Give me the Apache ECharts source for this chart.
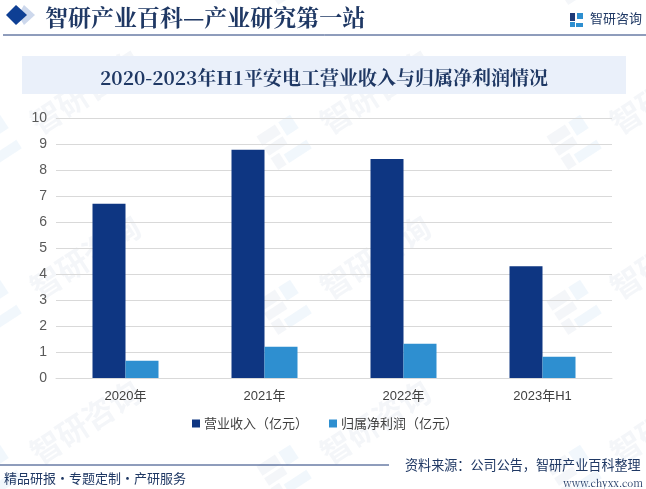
<!DOCTYPE html>
<html><head><meta charset="utf-8">
<style>html,body{margin:0;padding:0;background:#fff}#c{width:646px;height:489px}</style>
<script src="https://cdn.jsdelivr.net/npm/echarts@6/dist/echarts.min.js"></script>
</head><body><div id="c"></div>
<script>
const categories = ['2020年','2021年','2022年','2023年H1'];
const revenue = [6.7, 8.78, 8.42, 4.3];
const profit = [0.66, 1.2, 1.32, 0.82];
const seriesNames = ['营业收入（亿元）','归属净利润（亿元）'];
const titleText = '2020-2023年H1平安电工营业收入与归属净利润情况';
const headerText = '智研产业百科—产业研究第一站';
const sourceText = '资料来源：公司公告，智研产业百科整理';
const sloganText = '精品研报·专题定制·产研服务';
const siteText = 'www.chyxx.com';
const brandText = '智研咨询';

const serif = '"Noto Serif CJK SC","Liberation Serif","Noto Sans CJK SC",serif';
const sans = '"Noto Sans CJK SC",sans-serif';
const wmAngle = Math.PI * 33 / 180;
const wmFill = 'rgba(60,95,150,0.055)';
const wmBlue = 'rgba(50,140,210,0.07)';
const marks = [];
// the faint logo-and-name stamp repeats on a regular lattice behind the chart
[-60, 105, 270, 435].forEach(oy => {
  [-15, 275, 565].forEach(ox => {
    marks.push({type:'group', x:ox, y:oy + 60, rotation:wmAngle, z:0, silent:true, children:[
      {type:'rect', shape:{x:0,y:-34,width:22,height:11}, style:{fill:wmFill}},
      {type:'rect', shape:{x:0,y:-20,width:22,height:9}, style:{fill:wmFill}},
      {type:'rect', shape:{x:0,y:-8,width:10,height:14}, style:{fill:wmFill}},
      {type:'rect', shape:{x:26,y:-34,width:14,height:16}, style:{fill:wmBlue}},
      {type:'rect', shape:{x:13,y:-4,width:27,height:10}, style:{fill:wmBlue}},
      {type:'text', x:62, y:-22, style:{text:brandText, fill:wmFill, font:'bold 31px '+sans}}
    ]});
  });
});
const chart = echarts.init(document.getElementById('c'));
chart.setOption({
  animation:false,
  backgroundColor:'#fff',
  grid:{left:56,right:34,top:118,bottom:111,containLabel:false},
  legend:{
    top:412,left:187,itemWidth:8,itemHeight:8,itemGap:21,icon:'rect',
    textStyle:{fontFamily:sans,fontSize:13,color:'#404040',padding:[0,0,0,-1],width:110},
    data:seriesNames
  },
  xAxis:{type:'category',data:categories,
    axisLine:{lineStyle:{color:'#d9d9d9',width:1}},axisTick:{show:false},
    axisLabel:{fontFamily:'"Liberation Sans",'+sans,fontSize:13,color:'#404040',margin:12}},
  yAxis:{type:'value',min:0,max:10,interval:1,
    axisLine:{show:false},axisTick:{show:false},
    splitLine:{lineStyle:{color:'#d9d9d9',width:1}},
    axisLabel:{fontFamily:'"Liberation Sans",sans-serif',fontSize:14,color:'#595959',margin:9}},
  series:[
    {name:seriesNames[0],type:'bar',data:revenue,barWidth:33,barGap:0,itemStyle:{color:'#0e3682'},z:3},
    {name:seriesNames[1],type:'bar',data:profit,barWidth:33,barGap:0,itemStyle:{color:'#2e8fd0'},z:3}
  ],
  graphic:{elements:[
    ...marks,
    {type:'polygon',z:4,shape:{points:[[24,5],[35,15],[24,25],[18,15]]},style:{fill:'#cdd8ec'}},
    {type:'polygon',z:5,shape:{points:[[16,5],[27,15],[16,25],[6,15]]},style:{fill:'#0e3f94'}},
    {type:'text',z:5,x:45,y:17,style:{text:headerText,fill:'#1f3864',font:'bold 23px '+serif,verticalAlign:'middle'}},
    {type:'line',z:5,shape:{x1:3,y1:35,x2:646,y2:35},style:{stroke:'#1f3a78',lineWidth:1}},
    {type:'rect',z:5,shape:{x:570,y:13,width:5,height:8},style:{fill:'#1f3a78'}},
    {type:'rect',z:5,shape:{x:570,y:22,width:5,height:5},style:{fill:'#2e8fd0'}},
    {type:'rect',z:5,shape:{x:577,y:13,width:6,height:6},style:{fill:'#2e8fd0'}},
    {type:'rect',z:5,shape:{x:576,y:23,width:7,height:4},style:{fill:'#2e8fd0'}},
    {type:'text',z:5,x:590,y:12,style:{text:brandText,fill:'#1f3864',font:'13px '+sans}},
    {type:'rect',z:1,shape:{x:22,y:56,width:604,height:38},style:{fill:'#eaf0fa'}},
    {type:'text',z:5,x:324,y:78,style:{text:titleText,fill:'#1f3864',font:'bold 19px '+serif,align:'center',verticalAlign:'middle'}},
    {type:'line',z:5,shape:{x1:0,y1:465,x2:389,y2:465},style:{stroke:'#1f3a78',lineWidth:1}},
    {type:'text',z:5,x:405,y:458,style:{text:sourceText,fill:'#1f3864',font:'13.1px '+sans}},
    {type:'text',z:5,x:4,y:472,style:{text:sloganText,fill:'#1f3864',font:'13px '+sans}},
    {type:'text',z:5,x:643,y:478,style:{text:siteText,fill:'#1f3864',font:'10px '+serif,align:'right'}}
  ]}
});
</script></body></html>
